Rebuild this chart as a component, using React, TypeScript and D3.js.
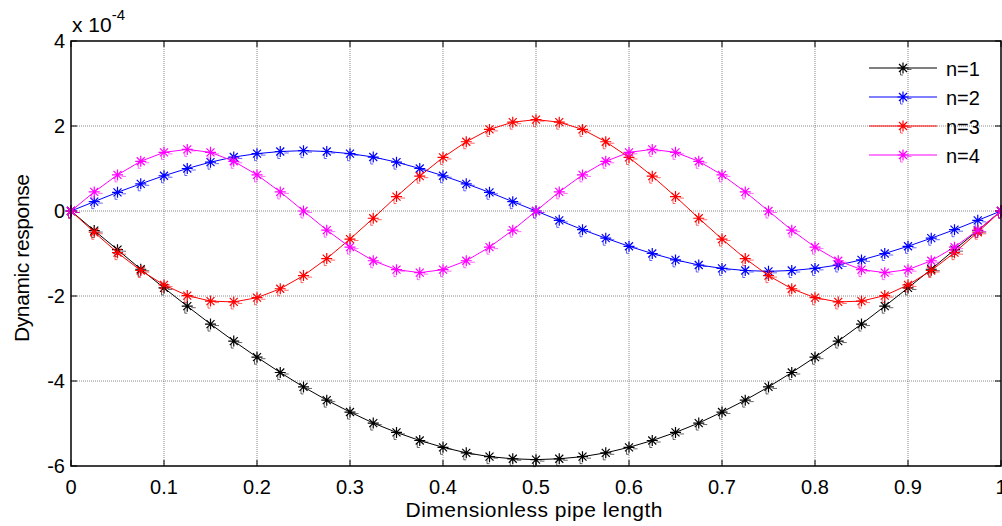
import React, { useEffect, useRef } from 'react';
import * as d3 from 'd3';

// x positions of the samples (dimensionless pipe length)
const xs = [0, 0.025, 0.05, 0.075, 0.1, 0.125, 0.15, 0.175, 0.2, 0.225, 0.25, 0.275, 0.3, 0.325, 0.35, 0.375, 0.4, 0.425, 0.45, 0.475,
  0.5, 0.525, 0.55, 0.575, 0.6, 0.625, 0.65, 0.675, 0.7, 0.725, 0.75, 0.775, 0.8, 0.825, 0.85, 0.875, 0.9, 0.925, 0.95, 0.975, 1];

// values in units of 1e-4
const n1 = [0, -0.46, -0.91, -1.37, -1.81, -2.24, -2.66, -3.06, -3.44, -3.80, -4.14, -4.45, -4.73, -4.99, -5.21, -5.40, -5.56, -5.69, -5.78, -5.83,
  -5.85, -5.83, -5.78, -5.69, -5.56, -5.40, -5.21, -4.99, -4.73, -4.45, -4.14, -3.80, -3.44, -3.06, -2.66, -2.24, -1.81, -1.37, -0.91, -0.46, 0];
const n2 = [0, 0.22, 0.44, 0.64, 0.83, 1.00, 1.15, 1.27, 1.35, 1.40, 1.42, 1.40, 1.35, 1.27, 1.15, 1.00, 0.83, 0.64, 0.44, 0.22,
  0, -0.22, -0.44, -0.64, -0.83, -1.00, -1.15, -1.27, -1.35, -1.40, -1.42, -1.40, -1.35, -1.27, -1.15, -1.00, -0.83, -0.64, -0.44, -0.22, 0];
const n3 = [0, -0.50, -0.98, -1.40, -1.74, -1.99, -2.12, -2.14, -2.04, -1.83, -1.52, -1.12, -0.66, -0.17, 0.34, 0.82, 1.26, 1.63, 1.92, 2.09,
  2.15, 2.09, 1.92, 1.63, 1.26, 0.82, 0.34, -0.17, -0.66, -1.12, -1.52, -1.83, -2.04, -2.14, -2.12, -1.99, -1.74, -1.40, -0.98, -0.50, 0];
const n4 = [0, 0.45, 0.85, 1.17, 1.38, 1.45, 1.38, 1.17, 0.85, 0.45, 0, -0.45, -0.85, -1.17, -1.38, -1.45, -1.38, -1.17, -0.85, -0.45,
  0, 0.45, 0.85, 1.17, 1.38, 1.45, 1.38, 1.17, 0.85, 0.45, 0, -0.45, -0.85, -1.17, -1.38, -1.45, -1.38, -1.17, -0.85, -0.45, 0];

const seriesNames = ['n=1', 'n=2', 'n=3', 'n=4'];
const seriesColors = ['#000000', '#0000ff', '#ff0000', '#ff00ff'];
const xTicks = [0, 0.1, 0.2, 0.3, 0.4, 0.5, 0.6, 0.7, 0.8, 0.9, 1];
const yTicks = [-6, -4, -2, 0, 2, 4];

const FONT = '"Liberation Sans", Arial, sans-serif';

// asterisk marker with the little smudge matlab leaves next to it
const starPath = 'M-5.5,0H5.5M0,-5.5V5.5M-4,-4L4,4M-4,4L4,-4';
const smudgePath = 'M4,1.5H8.5M-2.5,3V7H0';

export default function App() {
  const ref = useRef<SVGSVGElement | null>(null);

  useEffect(() => {
    var svg = d3.select(ref.current);
    svg.selectAll('*').remove();

    var W = 1002, H = 526;
    var left = 71, right = 1001, top = 41, bottom = 466;

    var x = d3.scaleLinear().domain([0, 1]).range([left, right]);
    var y = d3.scaleLinear().domain([-6, 4]).range([bottom, top]);

    svg.append('rect').attr('width', W).attr('height', H).attr('fill', 'white');

    // grid
    var grid = svg.append('g');
    xTicks.slice(1, -1).forEach(t => {
      grid.append('line').attr('x1', x(t)).attr('x2', x(t)).attr('y1', top).attr('y2', bottom)
        .attr('stroke', '#8a8a8a').attr('stroke-width', 1).attr('stroke-dasharray', '1,1');
    });
    yTicks.slice(1, -1).forEach(t => {
      grid.append('line').attr('x1', left).attr('x2', right).attr('y1', y(t)).attr('y2', y(t))
        .attr('stroke', '#8a8a8a').attr('stroke-width', 1).attr('stroke-dasharray', '1,1');
    });

    // inward ticks
    var ticks = svg.append('g').attr('stroke', '#000').attr('stroke-width', 1);
    xTicks.forEach(t => {
      ticks.append('line').attr('x1', x(t)).attr('x2', x(t)).attr('y1', bottom).attr('y2', bottom - 6);
      ticks.append('line').attr('x1', x(t)).attr('x2', x(t)).attr('y1', top).attr('y2', top + 6);
    });
    yTicks.forEach(t => {
      ticks.append('line').attr('x1', left).attr('x2', left + 6).attr('y1', y(t)).attr('y2', y(t));
      ticks.append('line').attr('x1', right).attr('x2', right - 6).attr('y1', y(t)).attr('y2', y(t));
    });

    // lines + markers
    var all = [n1, n2, n3, n4];
    var line = d3.line<number>()
      .x((d, i) => x(xs[i]))
      .y(d => y(d));

    all.forEach((vals, si) => {
      var c = seriesColors[si];
      svg.append('path').datum(vals).attr('d', line).attr('fill', 'none')
        .attr('stroke', c).attr('stroke-width', 1);
      var g = svg.append('g');
      vals.forEach((v, i) => {
        var m = g.append('g').attr('transform', 'translate(' + x(xs[i]) + ',' + y(v) + ')');
        m.append('path').attr('d', starPath).attr('stroke', c).attr('stroke-width', 1.2).attr('fill', 'none');
        m.append('path').attr('d', smudgePath).attr('stroke', c).attr('stroke-width', 1)
          .attr('stroke-opacity', 0.6).attr('fill', 'none');
      });
    });

    // axes box
    svg.append('rect').attr('x', left).attr('y', top).attr('width', right - left).attr('height', bottom - top)
      .attr('fill', 'none').attr('stroke', '#000').attr('stroke-width', 1.5);

    // tick labels
    xTicks.forEach(t => {
      svg.append('text').attr('x', x(t)).attr('y', bottom + 28).attr('text-anchor', 'middle')
        .attr('font-family', FONT).attr('font-size', 20).text(String(t));
    });
    yTicks.forEach(t => {
      svg.append('text').attr('x', left - 6).attr('y', y(t) + 7).attr('text-anchor', 'end')
        .attr('font-family', FONT).attr('font-size', 20).text(String(t));
    });

    // exponent
    var ex = svg.append('text').attr('x', left + 1).attr('y', 32).attr('font-family', FONT).attr('font-size', 21);
    ex.append('tspan').text('x 10');
    ex.append('tspan').attr('dy', -12).attr('font-size', 15).text('-4');

    // axis labels
    svg.append('text').attr('x', 534).attr('y', 517).attr('text-anchor', 'middle')
      .attr('font-family', FONT).attr('font-size', 21).attr('textLength', 257).text('Dimensionless pipe length');
    svg.append('text').attr('transform', 'translate(29,258) rotate(-90)')
      .attr('text-anchor', 'middle').attr('font-family', FONT).attr('font-size', 21).attr('textLength', 168).text('Dynamic response');

    // legend
    var legend = svg.append('g');
    seriesNames.forEach((name, i) => {
      var ly = 68 + i * 29;
      var c = seriesColors[i];
      legend.append('line').attr('x1', 869).attr('x2', 937).attr('y1', ly).attr('y2', ly)
        .attr('stroke', c).attr('stroke-width', 1);
      var m = legend.append('g').attr('transform', 'translate(903,' + ly + ')');
      m.append('path').attr('d', starPath).attr('stroke', c).attr('stroke-width', 1.2).attr('fill', 'none');
      m.append('path').attr('d', smudgePath).attr('stroke', c).attr('stroke-opacity', 0.6).attr('fill', 'none');
      legend.append('text').attr('x', 946).attr('y', ly + 8).attr('font-family', FONT).attr('font-size', 20).text(name);
    });
  }, []);

  return (
    <svg ref={ref} width={1002} height={526} style={{ position: 'absolute', left: 0, top: 0 }} />
  );
}
